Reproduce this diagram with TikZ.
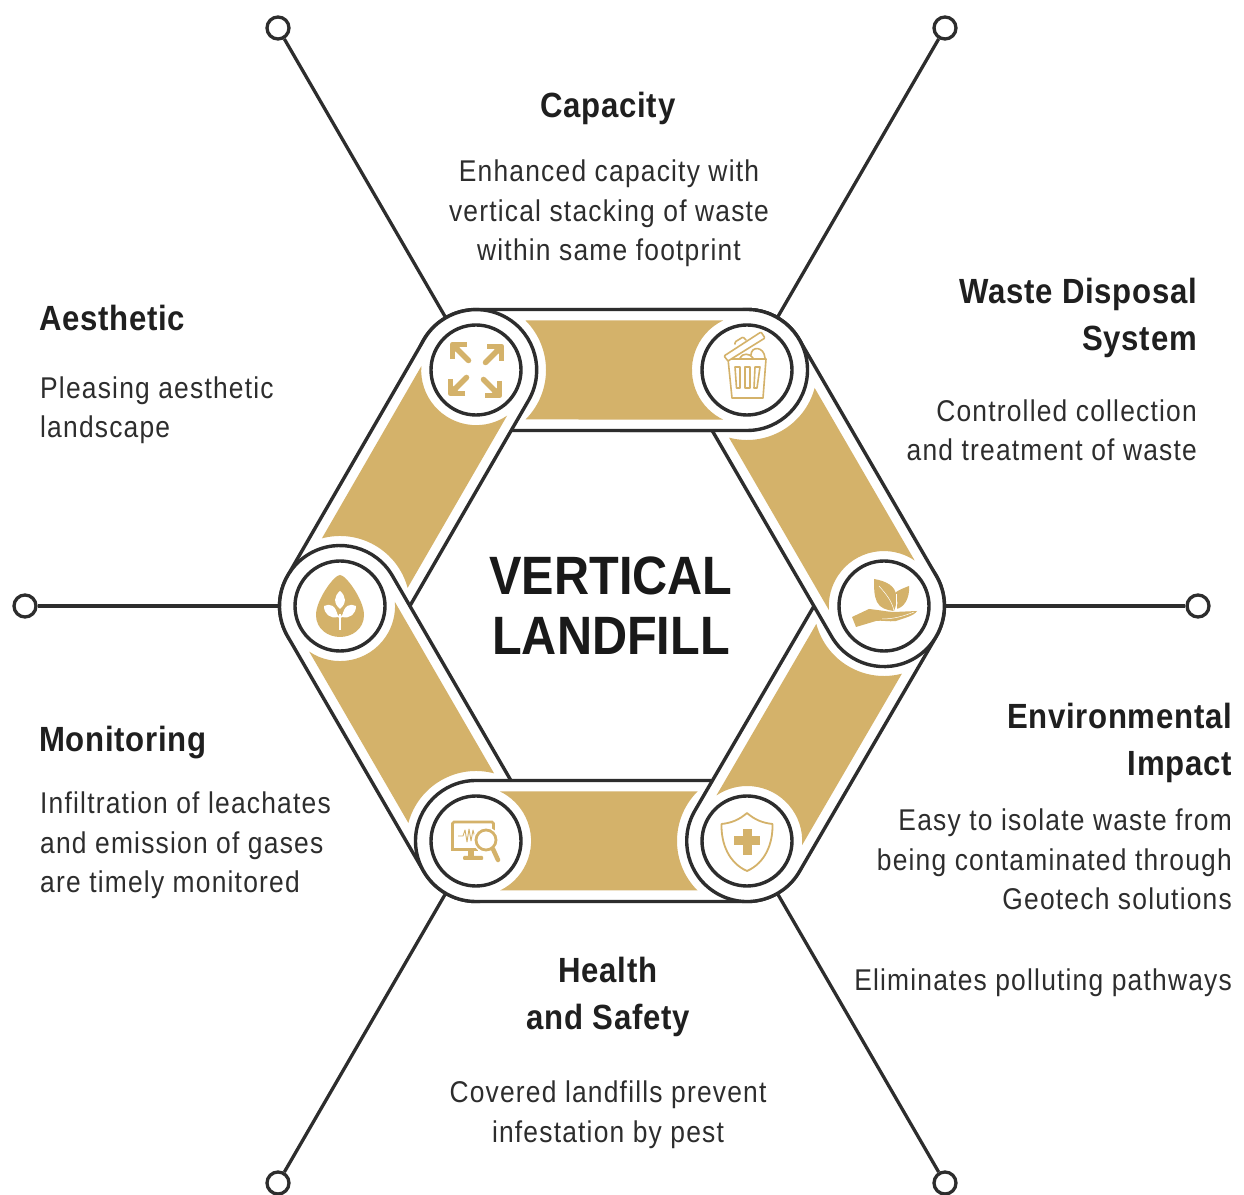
\documentclass[tikz,border=0pt]{standalone}
\usepackage{fontspec}
\setmainfont[FakeStretch=0.90]{Liberation Sans}
\newfontfamily\bodyf[FakeStretch=0.88,LetterSpace=4]{Liberation Sans}
\newfontfamily\headf[FakeStretch=0.89,LetterSpace=2]{Liberation Sans}
\definecolor{ink}{HTML}{2D2D2D}
\definecolor{gold}{HTML}{D4B26A}
\tikzset{
  x=1pt,y=1pt,
  outline/.style={draw=ink,line width=3.4pt,fill=white,line join=round},
  goldfill/.style={fill=gold,draw=none},
  spoke/.style={draw=ink,line width=3.3pt},
  endpoint/.style={circle,draw=ink,line width=3.3pt,fill=white,minimum size=22pt,inner sep=0pt},
  hub/.style={circle,draw=ink,line width=3.4pt,fill=white,minimum size=90pt,inner sep=0pt},
  headtext/.style={inner sep=0pt,text=black!88,font=\headf\bfseries\fontsize{35}{47}\selectfont},
  bodytext/.style={inner sep=0pt,text=ink,font=\bodyf\fontsize{30}{39.6}\selectfont},
  titletext/.style={inner sep=0pt,text=black!90,align=center,font=\bfseries\fontsize{54}{60}\selectfont},
  iconline/.style={draw=gold,line width=1.6pt,line join=round,line cap=round},
}
% #1 start (under end), #2 angle, #3 length
\newcommand{\segoutline}[3]{%
  \begin{scope}[shift={(#1)},rotate=#2]
    \draw[outline] (0,60.5) -- (#3,60.5) arc (90:-90:60.5) -- (0,-60.5) arc (270:90:60.5) -- cycle;
    \pgfmathsetmacro{\gx}{#3-24}
    \fill[goldfill] (49.5,-49.5) arc (-45:45:70) -- (\gx,49.5) arc (115.8:244.2:55) -- cycle;
  \end{scope}}
\begin{document}
\begin{tikzpicture}
\useasboundingbox (0,0) rectangle (1244,1194);
\fill[white] (0,0) rectangle (1244,1194);
\coordinate (cTL) at (476,824);
\coordinate (cTR) at (747,824);
\coordinate (cR) at (884,588);
\coordinate (cBR) at (747,353);
\coordinate (cBL) at (476,353);
\coordinate (cL) at (340,588);
% spokes
\node[endpoint] (eTL) at (278,1166) {};
\node[endpoint] (eTR) at (945,1166) {};
\node[endpoint] (eR) at (1198,588) {};
\node[endpoint] (eL) at (25,588) {};
\node[endpoint] (eBL) at (278,11) {};
\node[endpoint] (eBR) at (945,11) {};
\draw[spoke] (eTL) -- (cTL);
\draw[spoke] (eTR) -- (cTR);
\draw[spoke] (eR) -- (cR);
\draw[spoke] (eL) -- (cL);
\draw[spoke] (eBL) -- (cBL);
\draw[spoke] (eBR) -- (cBR);
% interlocked links
\segoutline{cTL}{0}{271}
\segoutline{cL}{60}{272.4}
\segoutline{cBL}{120.06}{271.5}
\segoutline{cBR}{180}{271}
\segoutline{cR}{-120.2}{272}
\segoutline{cTR}{-59.9}{272.9}
\begin{scope}
  \clip (620,600) rectangle (900,1000);
  \segoutline{cTL}{0}{271}
\end{scope}
% hubs
\node[hub] (hTL) at (cTL) {};
\node[hub] (hTR) at (cTR) {};
\node[hub] (hR) at (cR) {};
\node[hub] (hBR) at (cBR) {};
\node[hub] (hBL) at (cBL) {};
\node[hub] (hL) at (cL) {};
% expand icon
\begin{scope}[shift={(cTL)}]
  \foreach \r in {0,90,180,270}{
    \begin{scope}[rotate=\r]
      \draw[gold,line width=5.5pt,line join=round] (-23.5,11) -- (-23.5,25.5) -- (-9,25.5);
      \fill[gold] (-25,27) -- (-12,27) -- (-25,14) -- cycle;
      \draw[gold,line width=5.5pt,line cap=round] (-21,23) -- (-7.5,9.5);
    \end{scope}}
\end{scope}
% bin icon
\begin{scope}[shift={(cTR)}]
  \draw[iconline] (-19,11) -- (19,11) -- (16,-28) -- (-15,-28) -- cycle;
  \draw[iconline] (-12,3) -- (-7,3) -- (-7,-18) -- (-10.5,-18) -- cycle;
  \draw[iconline] (-2,3) -- (3,3) -- (3,-18) -- (-2,-18) -- cycle;
  \draw[iconline] (8,3) -- (13,3) -- (10,-18) -- (7,-18) -- cycle;
  \draw[iconline] (-7,12) .. controls (-5,17) and (3,17) .. (6,12);
  \draw[iconline] (4,15) .. controls (4,24) and (17,24) .. (18,12);
  \draw[iconline,fill=white,rounded corners=1pt] (-23,14) -- (14,38) -- (18,32) -- (-19,9) -- cycle;
  \draw[iconline,rounded corners=1pt] (-12,26) -- (-12,28) -- (-4,33) -- (-1,30);
\end{scope}
% hand and leaves icon
\begin{scope}[shift={(cR)}]
  \fill[gold] (-10,27) .. controls (2,25) and (12,20) .. (12,10) .. controls (13,4) and (12,0) .. (10,-5) .. controls (2,-4) and (-4,-2) .. (-7,4) .. controls (-10,10) and (-10,18) .. (-10,27) -- cycle;
  \fill[gold] (25,20) .. controls (20,18) and (14,16) .. (11,13) .. controls (14,6) and (14,0) .. (12,-3) .. controls (20,-2) and (26,8) .. (25,20) -- cycle;
  \fill[gold] (-32,-11) -- (-15,-3) .. controls (-5,-4) and (5,-6) .. (10,-6) -- (33,-5) .. controls (30,-10) and (20,-12) .. (12,-15) .. controls (5,-16) and (-3,-14) .. (-8,-15) -- (-28,-21) -- cycle;
  \draw[white,line width=0.5pt] (-5,20) .. controls (2,12) and (8,5) .. (10,-5);
  \draw[white,line width=0.5pt] (12,12) .. controls (12,6) and (12,2) .. (12,-3);
  \draw[white,line width=0.5pt] (-2,-13) .. controls (10,-13) and (20,-10) .. (30,-6);
\end{scope}
% drop icon
\begin{scope}[shift={(cL)}]
  \fill[gold] (0,31) .. controls (6,31) and (24,6) .. (24,-9) .. controls (24,-23) and (12,-31) .. (0,-31) .. controls (-12,-31) and (-24,-23) .. (-24,-9) .. controls (-24,6) and (-6,31) .. cycle;
  \draw[white,line width=1.6pt] (0,-24) -- (0,-8);
  \draw[white,line width=1.2pt] (0,-12) -- (-4,-8);
  \draw[white,line width=1.2pt] (0,-12) -- (4,-8);
  \fill[white] (0,15) .. controls (6,10) and (7,3) .. (0,-3) .. controls (-7,3) and (-6,10) .. (0,15) -- cycle;
  \fill[white] (-16,0) .. controls (-10,3) and (-4,1) .. (-2,-11) .. controls (-10,-13) and (-16,-8) .. (-16,0) -- cycle;
  \fill[white] (16,0) .. controls (10,3) and (4,1) .. (2,-11) .. controls (10,-13) and (16,-8) .. (16,0) -- cycle;
\end{scope}
% monitor icon
\begin{scope}[shift={(cBL)}]
  \draw[gold,line width=2.6pt,rounded corners=1.5pt] (-23.5,-8.5) -- (-23.5,19) -- (17.5,19) -- (17.5,6);
  \fill[gold] (-24.8,-10) rectangle (2,-7);
  \fill[gold] (-8,-9) rectangle (-2,-15);
  \fill[gold,rounded corners=1pt] (-13,-15) rectangle (7,-19);
  \draw[gold,line width=0.9pt,line join=round] (-18,5) -- (-13,5) -- (-11,11) -- (-9,-1) -- (-7,12) -- (-5,0) -- (-3,11) -- (-1,3) -- (3,5);
  \draw[white,line width=2pt,fill=white] (10,1) circle (12);
  \draw[gold,line width=2.8pt,fill=white] (10,1) circle (10);
  \draw[gold,line width=4.5pt,line cap=round] (17,-8) -- (22,-19);
\end{scope}
% shield icon
\begin{scope}[shift={(cBR)}]
  \draw[gold,line width=1.8pt,line join=round] (0,28) .. controls (8,21) and (16,18) .. (25.5,17) .. controls (26,-3) and (18,-22) .. (0,-30) .. controls (-18,-22) and (-26,-3) .. (-25.5,17) .. controls (-16,18) and (-8,21) .. cycle;
  \fill[gold] (-13,-4.5) rectangle (13,4.5);
  \fill[gold] (-4.5,-14) rectangle (4.5,12);
\end{scope}
% texts
\node[titletext,anchor=base] (title) at (611,539) {VERTICAL\\LANDFILL};
\node[headtext,anchor=base] (hCap) at (608,1076) {Capacity};
\node[bodytext,align=center,anchor=base] (bCap) at (609,933) {Enhanced capacity with\\vertical stacking of waste\\within same footprint};
\node[headtext,align=right,anchor=base east] (hWaste) at (1197,843) {Waste Disposal\\System};
\node[bodytext,align=right,anchor=base east] (bWaste) at (1197,733) {Controlled collection\\and treatment of waste};
\node[headtext,align=right,anchor=base east] (hEnv) at (1232,418) {Environmental\\Impact};
\node[bodytext,align=right,anchor=base east] (bEnv) at (1232,284) {Easy to isolate waste from\\being contaminated through\\Geotech solutions};
\node[bodytext,anchor=base east] (bEnvB) at (1232,204) {Eliminates polluting pathways};
\node[headtext,align=center,anchor=base] (hHealth) at (608,165) {Health\\and Safety};
\node[bodytext,align=center,anchor=base] (bHealth) at (608,52) {Covered landfills prevent\\infestation by pest};
\node[headtext,anchor=base west] (hAes) at (39,863) {Aesthetic};
\node[bodytext,align=left,anchor=base west] (bAes) at (40,756) {Pleasing aesthetic\\landscape};
\node[headtext,anchor=base west] (hMon) at (39,442) {Monitoring};
\node[bodytext,align=left,anchor=base west] (bMon) at (40,301) {Infiltration of leachates\\and emission of gases\\are timely monitored};
\end{tikzpicture}
\end{document}
